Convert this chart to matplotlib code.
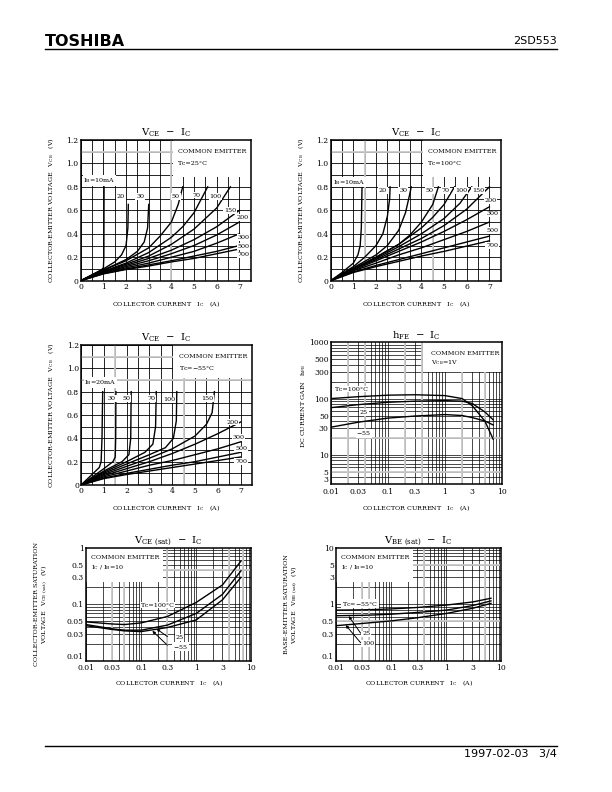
import numpy as np
import matplotlib.pyplot as plt
from matplotlib.patches import Rectangle
from matplotlib.lines import Line2D
from matplotlib.ticker import NullLocator

plt.rcParams['font.family'] = ['DejaVu Serif']
plt.rcParams['mathtext.fontset'] = 'dejavuserif'

# ---------------- VCE - IC data (IB in mA) ----------------
ib_25 = ['10', '20', '30', '50', '70', '100', '150', '200', '300', '500', '700']
ic_25 = [
    [0, 0.9, 1.0, 1.02, 1.03],
    [0, 1.0, 1.5, 1.8, 2.0, 2.08, 2.1],
    [0, 1.0, 2.0, 2.5, 2.8, 2.95, 3.0],
    [0, 1.0, 2.0, 3.0, 3.5, 4.0, 4.3, 4.5],
    [0, 1.0, 2.0, 3.0, 4.0, 4.5, 5.0, 5.6],
    [0, 1.0, 2.0, 3.0, 4.0, 5.0, 6.0, 6.6],
    [0, 1, 2, 3, 4, 5, 6, 7],
    [0, 1, 2, 3, 4, 5, 6, 7],
    [0, 1, 2, 3, 4, 5, 6, 7],
    [0, 1, 2, 3, 4, 5, 6, 7],
    [0, 1, 2, 3, 4, 5, 6, 7],
]
vce_25 = [
    [0, 0.09, 0.11, 0.2, 0.8],
    [0, 0.1, 0.16, 0.22, 0.3, 0.45, 0.65],
    [0, 0.09, 0.18, 0.25, 0.33, 0.45, 0.65],
    [0, 0.09, 0.17, 0.28, 0.38, 0.5, 0.65, 0.8],
    [0, 0.08, 0.15, 0.24, 0.37, 0.46, 0.58, 0.8],
    [0, 0.08, 0.14, 0.21, 0.31, 0.44, 0.62, 0.8],
    [0, 0.075, 0.13, 0.19, 0.26, 0.35, 0.46, 0.6],
    [0, 0.07, 0.12, 0.17, 0.23, 0.3, 0.39, 0.5],
    [0, 0.065, 0.11, 0.15, 0.2, 0.25, 0.32, 0.4],
    [0, 0.06, 0.1, 0.135, 0.17, 0.21, 0.25, 0.3],
    [0, 0.058, 0.095, 0.125, 0.16, 0.19, 0.23, 0.27],
]

ib_100 = ['10', '20', '30', '50', '70', '100', '150', '200', '300', '500', '700']
ic_100 = [
    [0, 0.5, 1.0, 1.2, 1.3, 1.35, 1.38],
    [0, 1.0, 1.5, 2.0, 2.3, 2.5, 2.6, 2.62],
    [0, 1.0, 2.0, 2.5, 3.0, 3.3, 3.5, 3.55],
    [0, 1.0, 2.0, 3.0, 3.5, 4.0, 4.5, 4.75],
    [0, 1.0, 2.0, 3.0, 4.0, 4.5, 5.0, 5.46],
    [0, 1.0, 2.0, 3.0, 4.0, 5.0, 5.7, 6.22],
    [0, 1, 2, 3, 4, 5, 6, 7],
    [0, 1, 2, 3, 4, 5, 6, 7],
    [0, 1, 2, 3, 4, 5, 6, 7],
    [0, 1, 2, 3, 4, 5, 6, 7],
    [0, 1, 2, 3, 4, 5, 6, 7],
]
vce_100 = [
    [0, 0.07, 0.15, 0.22, 0.3, 0.45, 0.8],
    [0, 0.12, 0.2, 0.3, 0.4, 0.55, 0.7, 0.8],
    [0, 0.11, 0.22, 0.3, 0.43, 0.58, 0.75, 0.8],
    [0, 0.1, 0.2, 0.31, 0.39, 0.5, 0.65, 0.8],
    [0, 0.1, 0.2, 0.31, 0.45, 0.54, 0.65, 0.8],
    [0, 0.1, 0.19, 0.29, 0.4, 0.53, 0.66, 0.8],
    [0, 0.1, 0.18, 0.27, 0.36, 0.47, 0.61, 0.8],
    [0, 0.09, 0.17, 0.25, 0.33, 0.42, 0.52, 0.63],
    [0, 0.085, 0.15, 0.22, 0.28, 0.35, 0.42, 0.5],
    [0, 0.075, 0.13, 0.18, 0.23, 0.28, 0.33, 0.38],
    [0, 0.07, 0.12, 0.165, 0.21, 0.25, 0.295, 0.34],
]

ib_m55 = ['20', '30', '50', '70', '100', '150', '200', '300', '500', '700']
ic_m55 = [
    [0, 0.8, 0.88, 0.92, 0.95],
    [0, 1.0, 1.4, 1.5, 1.52, 1.53],
    [0, 1.0, 1.8, 2.1, 2.18, 2.2],
    [0, 1.0, 2.0, 2.8, 3.15, 3.27, 3.3],
    [0, 1.0, 2.0, 3.0, 3.7, 4.05, 4.18, 4.2],
    [0, 1.0, 2.0, 3.0, 4.0, 5.0, 5.5, 5.75, 5.85],
    [0, 1, 2, 3, 4, 5, 6, 7],
    [0, 1, 2, 3, 4, 5, 6, 7],
    [0, 1, 2, 3, 4, 5, 6, 7],
    [0, 1, 2, 3, 4, 5, 6, 7],
]
vce_m55 = [
    [0, 0.15, 0.2, 0.4, 0.8],
    [0, 0.14, 0.2, 0.24, 0.4, 0.8],
    [0, 0.12, 0.2, 0.26, 0.4, 0.8],
    [0, 0.11, 0.2, 0.28, 0.35, 0.5, 0.8],
    [0, 0.1, 0.18, 0.26, 0.32, 0.4, 0.55, 0.8],
    [0, 0.09, 0.16, 0.23, 0.31, 0.42, 0.52, 0.62, 0.8],
    [0, 0.08, 0.14, 0.2, 0.27, 0.35, 0.44, 0.54],
    [0, 0.07, 0.12, 0.17, 0.21, 0.26, 0.31, 0.37],
    [0, 0.06, 0.1, 0.135, 0.17, 0.2, 0.24, 0.28],
    [0, 0.055, 0.09, 0.12, 0.15, 0.18, 0.21, 0.24],
]

# ---------------- hFE - IC ----------------
hfe_tc = ['100', '25', '-55']
hfe_ic = [0.01, 0.03, 0.1, 0.3, 1, 2, 3, 5, 7]
hfe_vals = [
    [100, 108, 115, 117, 113, 100, 75, 40, 19],
    [69, 78, 86, 90, 92, 90, 82, 58, 42],
    [31, 38, 45, 49, 52, 50, 46, 40, 34],
]

# ---------------- VCE(sat) - IC ----------------
sat_ic = [0.01, 0.03, 0.05, 0.1, 0.3, 1, 3, 6.5]
vcesat_vals = [
    [0.049, 0.045, 0.044, 0.047, 0.061, 0.108, 0.22, 0.58],
    [0.044, 0.037, 0.035, 0.035, 0.043, 0.069, 0.15, 0.39],
    [0.042, 0.036, 0.034, 0.033, 0.039, 0.053, 0.12, 0.30],
]

# ---------------- VBE(sat) - IC ----------------
vbesat_vals = [
    [0.79, 0.80, 0.81, 0.83, 0.88, 0.97, 1.10, 1.28],
    [0.63, 0.64, 0.65, 0.67, 0.72, 0.79, 0.95, 1.15],
    [0.42, 0.46, 0.48, 0.51, 0.58, 0.69, 0.85, 1.04],
]

fig = plt.figure(figsize=(6.12, 7.92), dpi=100)

TICK_FS = 5.5
SMALL_FS = 4.6
TITLE_FS = 7.2
GRAY = '#c8c8c8'
BOX = dict(fc='white', ec='none', pad=0.6)


def vce_chart(rect, ib, ic, vce, lbl_pos, ib_text, tc_text, box_bottom, gray_x, gray_y):
    ax = fig.add_axes(rect)
    ax.set_xlim(0, 7.5)
    ax.set_ylim(0, 1.2)
    for x in np.arange(0, 7.51, 0.5):
        ax.axvline(x, color='k', lw=0.6, zorder=1)
    for y in np.arange(0, 1.21, 0.1):
        ax.axhline(y, color='k', lw=0.6, zorder=1)
    for x in gray_x:
        ax.axvline(x, color=GRAY, lw=1.3, zorder=1.5)
    for y in gray_y:
        ax.axhline(y, color=GRAY, lw=1.3, zorder=1.5)
    ax.add_patch(Rectangle((4.05, box_bottom), 3.45, 1.2 - box_bottom,
                           fc='white', ec='none', zorder=2))
    ax.text(4.3, 1.1, 'COMMON EMITTER', fontsize=SMALL_FS, va='center', zorder=3)
    ax.text(4.3, 1.0, tc_text, fontsize=SMALL_FS, va='center', zorder=3)
    for k in range(len(ib)):
        ax.plot(ic[k], vce[k], color='k', lw=1.0, zorder=4)
    for k, (x, y) in enumerate(lbl_pos):
        if k == 0:
            ax.text(x, y, ib_text, fontsize=SMALL_FS, va='center', zorder=5, bbox=BOX)
        else:
            ax.text(x, y, ib[k], fontsize=SMALL_FS, va='center', ha='center', zorder=5, bbox=BOX)
    ax.set_xticks(range(8))
    ax.set_yticks(np.arange(0, 1.21, 0.2))
    ax.set_yticklabels(['0', '0.2', '0.4', '0.6', '0.8', '1.0', '1.2'])
    ax.tick_params(length=0, labelsize=TICK_FS, pad=1.5)
    ax.set_title(r'V$_{\rm CE}$  $-$  I$_{\rm C}$', fontsize=TITLE_FS, pad=3)
    ax.set_xlabel(r'COLLECTOR CURRENT   I$_{\rm C}$   (A)', fontsize=SMALL_FS)
    ax.set_ylabel(r'COLLECTOR-EMITTER VOLTAGE   V$_{\rm CE}$   (V)', fontsize=SMALL_FS)
    ax.xaxis.set_label_coords(0.5, -0.13)
    ax.yaxis.set_label_coords(-0.145, 0.5)
    for s in ax.spines.values():
        s.set_linewidth(1.1)
        s.set_zorder(6)
    return ax


def log_grid(ax, x_dec, y_dec, gray_x, gray_y):
    for d in x_dec[:-1]:
        for k in range(1, 10):
            ax.axvline(k * 10.0 ** d, color='k', lw=0.5, zorder=1)
    for d in y_dec[:-1]:
        for k in range(1, 10):
            ax.axhline(k * 10.0 ** d, color='k', lw=0.5, zorder=1)
    for x in gray_x:
        ax.axvline(x, color=GRAY, lw=1.3, zorder=1.5)
    for y in gray_y:
        ax.axhline(y, color=GRAY, lw=1.3, zorder=1.5)
    ax.xaxis.set_minor_locator(NullLocator())
    ax.yaxis.set_minor_locator(NullLocator())
    ax.tick_params(which='both', length=0, labelsize=TICK_FS, pad=1.5)
    for s in ax.spines.values():
        s.set_linewidth(1.1)
        s.set_zorder(6)


def lift_first_ylabel(ax):
    lbl = ax.get_yticklabels()[0]
    lbl.set_va('bottom')


# chart 1 : Tc = 25
vce_chart([0.1319, 0.6456, 0.2778, 0.1777], ib_25, ic_25, vce_25,
          [(0.12, 0.855), (1.78, 0.72), (2.62, 0.72), (4.2, 0.72), (5.1, 0.73),
           (5.95, 0.72), (6.6, 0.6), (7.12, 0.54), (7.18, 0.37), (7.18, 0.29), (7.18, 0.22)],
          r'I$_{\rm B}$=10mA', r'Tc=25°C', 0.88, [4.0], [1.1])

# chart 2 : Tc = 100
vce_chart([0.5404, 0.6456, 0.2778, 0.1777], ib_100, ic_100, vce_100,
          [(0.12, 0.84), (2.3, 0.77), (3.2, 0.77), (4.35, 0.77), (5.06, 0.77),
           (5.75, 0.77), (6.5, 0.77), (7.05, 0.68), (7.15, 0.57), (7.12, 0.43), (7.12, 0.3)],
          r'I$_{\rm B}$=10mA', r'Tc=100°C', 0.88, [1.5, 4.5], [1.1])

# chart 3 : Tc = -55
vce_chart([0.1324, 0.3876, 0.2794, 0.1768], ib_m55, ic_m55, vce_m55,
          [(0.15, 0.88), (1.35, 0.74), (1.99, 0.74), (3.09, 0.74), (3.86, 0.73),
           (5.55, 0.74), (6.63, 0.54), (6.9, 0.41), (7.02, 0.31), (7.02, 0.2)],
          r'I$_{\rm B}$=20mA', r'Tc=$-$55°C', 0.92, [1.5, 4.5], [0.9, 1.1])

# chart 4 : hFE - IC
ax = fig.add_axes([0.5404, 0.3885, 0.2799, 0.1793])
ax.set_xscale('log')
ax.set_yscale('log')
ax.set_xlim(0.01, 10)
ax.set_ylim(3, 1000)
log_grid(ax, [-2, -1, 0, 1], [0, 1, 2, 3], [0.02, 0.04, 0.2, 0.4, 2, 5], [20, 5])
ax.add_patch(Rectangle((0.41, 300), 10 - 0.41, 700, fc='white', ec='none', zorder=2))
ax.text(0.57, 640, 'COMMON EMITTER', fontsize=SMALL_FS, va='center', zorder=3)
ax.text(0.57, 440, r'V$_{\rm CE}$=1V', fontsize=SMALL_FS, va='center', zorder=3)
for k in range(len(hfe_tc)):
    ax.plot(hfe_ic, hfe_vals[k], color='k', lw=1.0, zorder=4)
ax.text(0.0118, 148, r'Tc=100°C', fontsize=SMALL_FS, va='center', zorder=5, bbox=BOX)
ax.text(0.038, 56, '25', fontsize=SMALL_FS, va='center', ha='center', zorder=5, bbox=BOX)
ax.text(0.038, 24, r'$-$55', fontsize=SMALL_FS, va='center', ha='center', zorder=5, bbox=BOX)
ax.set_xticks([0.01, 0.03, 0.1, 0.3, 1, 3, 10])
ax.set_xticklabels(['0.01', '0.03', '0.1', '0.3', '1', '3', '10'])
ax.set_yticks([3, 5, 10, 30, 50, 100, 300, 500, 1000])
ax.set_yticklabels(['3', '5', '10', '30', '50', '100', '300', '500', '1000'])
ax.tick_params(axis='x', pad=2.5)
lift_first_ylabel(ax)
ax.set_title(r'h$_{\rm FE}$  $-$  I$_{\rm C}$', fontsize=TITLE_FS, pad=3)
ax.set_xlabel(r'COLLECTOR CURRENT   I$_{\rm C}$   (A)', fontsize=SMALL_FS)
ax.set_ylabel(r'DC CURRENT GAIN   h$_{\rm FE}$', fontsize=SMALL_FS)
ax.xaxis.set_label_coords(0.5, -0.13)
ax.yaxis.set_label_coords(-0.13, 0.55)


def sat_chart(rect, ylim, vals, title, ylabel, yticks, ylabels, box_y, tc_pos, tc_text,
              others, arrows, gray_x, gray_y):
    ax = fig.add_axes(rect)
    ax.set_xscale('log')
    ax.set_yscale('log')
    ax.set_xlim(0.01, 10)
    ax.set_ylim(*ylim)
    d0 = int(round(np.log10(ylim[0])))
    log_grid(ax, [-2, -1, 0, 1], [d0, d0 + 1, d0 + 2], gray_x, gray_y)
    ax.add_patch(Rectangle((0.01, box_y), 0.25 - 0.01, ylim[1] - box_y,
                           fc='white', ec='none', zorder=2))
    ax.text(0.0122, box_y * 2.7, 'COMMON EMITTER', fontsize=SMALL_FS, va='center', zorder=3)
    ax.text(0.0122, box_y * 1.76, r'I$_{\rm C}$ / I$_{\rm B}$=10', fontsize=SMALL_FS,
            va='center', zorder=3)
    for k in range(len(vals)):
        ax.plot(sat_ic, vals[k], color='k', lw=1.0, zorder=4)
    ax.text(tc_pos[0], tc_pos[1], tc_text, fontsize=SMALL_FS, va='center', zorder=5, bbox=BOX)
    for (x, y, s) in others:
        ax.text(x, y, s, fontsize=SMALL_FS, va='center', zorder=5, bbox=BOX)
    for (x0, y0, x1, y1) in arrows:
        ax.annotate('', xy=(x1, y1), xytext=(x0, y0), zorder=5,
                    arrowprops=dict(arrowstyle='-|>', color='k', lw=0.7,
                                    mutation_scale=4, shrinkA=0, shrinkB=0))
    ax.set_xticks([0.01, 0.03, 0.1, 0.3, 1, 3, 10])
    ax.set_xticklabels(['0.01', '0.03', '0.1', '0.3', '1', '3', '10'])
    ax.set_yticks(yticks)
    ax.set_yticklabels(ylabels)
    ax.tick_params(axis='x', pad=2.5)
    lift_first_ylabel(ax)
    ax.set_title(title, fontsize=TITLE_FS, pad=3)
    ax.set_xlabel(r'COLLECTOR CURRENT   I$_{\rm C}$   (A)', fontsize=SMALL_FS)
    ax.set_ylabel(ylabel, fontsize=SMALL_FS, linespacing=1.1)
    ax.xaxis.set_label_coords(0.5, -0.15)
    ax.yaxis.set_label_coords(-0.22, 0.5)
    return ax


# chart 5 : VCE(sat) - IC
sat_chart([0.1405, 0.1654, 0.2701, 0.1431], (0.01, 1), vcesat_vals,
          r'V$_{\rm CE}$$_{\rm \ (sat)}$  $-$  I$_{\rm C}$',
          'COLLECTOR-EMITTER SATURATION\n' + r'VOLTAGE   V$_{\rm CE\ (sat)}$   (V)',
          [0.01, 0.03, 0.05, 0.1, 0.3, 0.5, 1],
          ['0.01', '0.03', '0.05', '0.1', '0.3', '0.5', '1'],
          0.25, (0.1, 0.097), r'Tc=100°C',
          [(0.42, 0.026, '25'), (0.38, 0.018, r'$-$55')],
          [(0.3, 0.027, 0.19, 0.037), (0.3, 0.019, 0.16, 0.034)],
          [0.03, 0.05, 0.3, 4, 7], [0.4])

# chart 6 : VBE(sat) - IC
sat_chart([0.5490, 0.1654, 0.2701, 0.1431], (0.1, 10), vbesat_vals,
          r'V$_{\rm BE}$$_{\rm \ (sat)}$  $-$  I$_{\rm C}$',
          'BASE-EMITTER SATURATION\n' + r'VOLTAGE   V$_{\rm BE\ (sat)}$   (V)',
          [0.1, 0.3, 0.5, 1, 3, 5, 10],
          ['0.1', '0.3', '0.5', '1', '3', '5', '10'],
          2.5, (0.0127, 1.03), r'Tc=$-$55°C',
          [(0.03, 0.3, '25'), (0.03, 0.205, '100')],
          [(0.028, 0.31, 0.017, 0.62), (0.028, 0.21, 0.015, 0.43)],
          [0.03, 0.04, 0.4, 5], [5, 0.5])

# header / footer
fig.add_artist(Line2D([0.0735, 0.910], [0.9381, 0.9381], color='k', lw=1.0))
fig.text(0.0735, 0.9482, 'TOSHIBA', fontsize=11.5, fontweight='heavy',
         family='DejaVu Sans', va='center', ha='left')
fig.text(0.910, 0.9482, '2SD553', fontsize=8, family='DejaVu Sans', va='center', ha='right')
fig.add_artist(Line2D([0.0735, 0.910], [0.0585, 0.0585], color='k', lw=1.0))
fig.text(0.910, 0.0475, '1997-02-03   3/4', fontsize=8, family='DejaVu Sans',
         va='center', ha='right')

fig.savefig('out.png', dpi=100)
